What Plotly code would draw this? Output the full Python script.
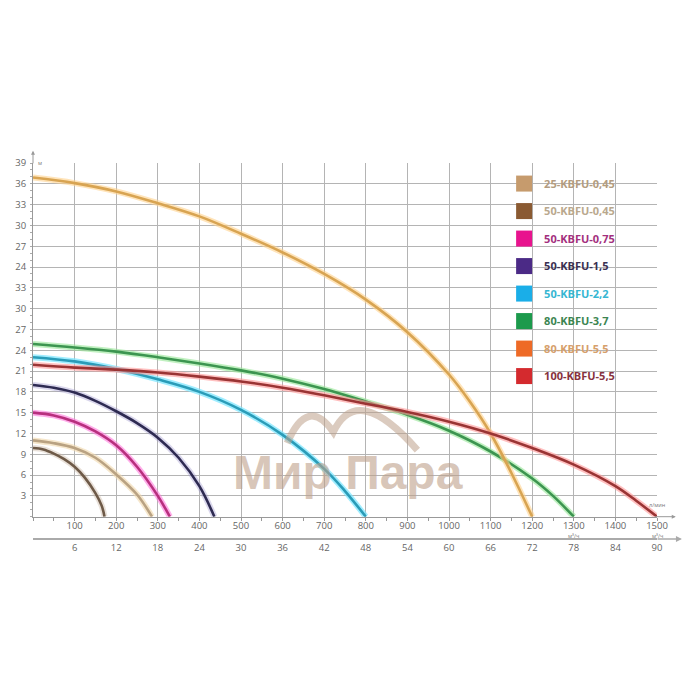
import plotly.graph_objects as go

# подача (верхняя шкала, 0-1500) и напор (в делениях оси)
q_25_045 = [0, 50, 100, 150, 200, 250, 286]
h_25_045 = [11.0, 10.6, 9.9, 8.5, 6.1, 3.2, 0]

q_50_045 = [0, 25, 50, 75, 100, 125, 150, 165, 172]
h_50_045 = [9.9, 9.7, 9.1, 8.3, 7.2, 5.6, 3.4, 1.6, 0]

q_50_075 = [0, 50, 100, 150, 200, 250, 300, 329]
h_50_075 = [15.0, 14.6, 13.7, 12.3, 10.3, 7.2, 3.0, 0]

q_50_15 = [0, 50, 100, 150, 200, 250, 300, 350, 400, 436]
h_50_15 = [19.0, 18.6, 17.9, 16.7, 15.2, 13.5, 11.4, 8.5, 4.4, 0]

q_50_22 = [0, 100, 200, 300, 400, 500, 600, 700, 750, 800]
h_50_22 = [23.0, 22.4, 21.3, 19.8, 18.0, 15.4, 11.8, 6.9, 3.7, 0]

q_80_37 = [0, 100, 200, 300, 400, 500, 600, 700, 800, 900, 1000, 1100, 1200, 1250, 1300]
h_80_37 = [24.9, 24.4, 23.8, 23.0, 22.1, 21.1, 19.9, 18.4, 16.6, 14.7, 12.4, 9.4, 5.5, 3.0, 0]

q_80_55 = [0, 100, 200, 300, 400, 500, 600, 700, 800, 900, 1000, 1050, 1100, 1150, 1200]
h_80_55 = [48.9, 48.1, 46.9, 45.2, 43.3, 40.8, 38.1, 35.0, 31.3, 26.6, 20.5, 16.6, 12.0, 6.3, 0]

q_100_55 = [0, 100, 200, 300, 400, 500, 600, 700, 800, 900, 1000, 1100, 1200, 1300, 1400, 1450, 1500]
h_100_55 = [21.9, 21.5, 21.2, 20.8, 20.2, 19.5, 18.6, 17.5, 16.3, 15.1, 13.7, 12.0, 9.9, 7.5, 4.4, 2.3, 0]

names = ["25-KBFU-0,45", "50-KBFU-0,45", "50-KBFU-0,75", "50-KBFU-1,5",
         "50-KBFU-2,2", "80-KBFU-3,7", "80-KBFU-5,5", "100-KBFU-5,5"]
flows = [q_25_045, q_50_045, q_50_075, q_50_15, q_50_22, q_80_37, q_80_55, q_100_55]
heads = [h_25_045, h_50_045, h_50_075, h_50_15, h_50_22, h_80_37, h_80_55, h_100_55]

box_colors = ["#c69b6d", "#8a5a32", "#e8138e", "#4b2a86", "#1aaee8", "#1c9a4c", "#ee6a26", "#d42a2e"]
line_colors = ["#b9a282", "#6e5a48", "#b8307e", "#2e2b52", "#2a9cb8", "#3c9550", "#d8a452", "#9a3434"]
glow_colors = ["rgba(240,215,170,0.6)", "rgba(200,180,160,0.4)", "rgba(255,120,220,0.6)",
               "rgba(150,140,200,0.35)", "rgba(120,230,255,0.7)", "rgba(150,230,150,0.6)",
               "rgba(255,210,140,0.6)", "rgba(255,150,150,0.6)"]
text_colors = ["#b39c80", "#b9a88e", "#a3307e", "#3a3052", "#36b6d2", "#3c8552", "#d6a06c", "#86323e"]

y_tickvals = [3, 6, 9, 12, 15, 18, 21, 24, 27, 30, 33, 36, 39, 42, 45, 48, 51]
y_ticktext = ["3", "6", "9", "12", "15", "18", "21", "24", "27", "30", "33",
              "24", "27", "30", "33", "36", "39"]
x_tickvals = [100, 200, 300, 400, 500, 600, 700, 800, 900, 1000, 1100, 1200, 1300, 1400, 1500]
x2_tickvals = [6, 12, 18, 24, 30, 36, 42, 48, 54, 60, 66, 72, 78, 84, 90]

fig = go.Figure()

# кривые: светлый ореол + основная линия
for i in range(len(names)):
    fig.add_trace(go.Scatter(x=flows[i], y=heads[i], mode="lines", line_shape="spline",
                             line=dict(color=glow_colors[i], width=6),
                             showlegend=False, hoverinfo="skip"))
    fig.add_trace(go.Scatter(x=flows[i], y=heads[i], mode="lines", line_shape="spline",
                             line=dict(color=line_colors[i], width=2.6),
                             showlegend=False, name=names[i]))

# нижняя шкала (м³/ч) - пустой след, чтобы ось рисовалась
fig.add_trace(go.Scatter(x=[None], y=[None], xaxis="x2", yaxis="y", showlegend=False,
                         hoverinfo="skip"))

# легенда с квадратами
for i in range(len(names)):
    fig.add_trace(go.Scatter(x=[None], y=[None], mode="markers",
                             marker=dict(symbol="square", size=16, color=box_colors[i]),
                             name="<b><span style='color:%s'>%s</span></b>" % (text_colors[i], names[i]),
                             legendgroup=names[i]))

# водяной знак
fig.add_annotation(x=758, y=6.4, xref="x", yref="y", text="<b>Мир Пара</b>",
                   showarrow=False, font=dict(family="Liberation Sans", size=48,
                                              color="rgba(190,160,138,0.6)"))
fig.add_shape(type="path", xref="x", yref="y",
              path="M 611,10.6 Q 660,17.5 722,12.2 Q 780,19.5 924,9.6",
              line=dict(color="rgba(190,160,138,0.55)", width=7))

# стрелки осей
fig.add_annotation(x=0, y=1.03, xref="x", yref="paper", ax=0, ay=14, text="",
                   showarrow=True, arrowhead=2, arrowsize=0.8, arrowwidth=1, arrowcolor="#999")
fig.add_annotation(x=1.03, y=0, xref="paper", yref="y", ax=-22, ay=0, text="",
                   showarrow=True, arrowhead=2, arrowsize=0.8, arrowwidth=1, arrowcolor="#999")
fig.add_annotation(x=1.04, y=0.0716, xref="paper", yref="paper", ax=-26, ay=0, text="",
                   showarrow=True, arrowhead=2, arrowsize=0.8, arrowwidth=1.5, arrowcolor="#aaa")

# единицы измерения
small = dict(family="Open Sans", size=5.5, color="#777")
fig.add_annotation(x=0, y=51, xref="x", yref="y", text="м", showarrow=False,
                   xanchor="left", xshift=3, font=small)
fig.add_annotation(x=1500, y=0, xref="x", yref="y", text="л/мин", showarrow=False,
                   yanchor="bottom", yshift=6, font=small)
for xv in [1300, 1500]:
    fig.add_annotation(x=xv, y=0, xref="x", yref="y", text="м³/ч", showarrow=False,
                       yanchor="top", yshift=-13, font=small)

tick_font = dict(family="Open Sans", size=9.5, color="#666")

fig.update_layout(
    width=692, height=692,
    margin=dict(l=25, r=43, t=155, b=132),
    plot_bgcolor="white", paper_bgcolor="white",
    xaxis=dict(range=[0, 1500], tickvals=x_tickvals, showgrid=True, gridcolor="#b4b4b4",
               gridwidth=1, zeroline=False, showline=True, linecolor="#999", linewidth=1,
               ticks="", tickfont=tick_font, anchor="y", automargin=False,
               minor=dict(ticks="outside", ticklen=3, dtick=50, tickcolor="#999", showgrid=False)),
    xaxis2=dict(range=[0, 90], tickvals=x2_tickvals, overlaying="x", anchor="free",
                position=0.0716, side="bottom", showgrid=False, zeroline=False,
                showline=True, linecolor="#aaa", linewidth=2, ticks="", tickfont=tick_font,
                automargin=False),
    yaxis=dict(range=[0, 51], domain=[0.1267, 1], tickvals=y_tickvals, ticktext=y_ticktext,
               showgrid=True, gridcolor="#b4b4b4", gridwidth=1, zeroline=False,
               showline=True, linecolor="#999", linewidth=1, ticks="", tickfont=tick_font,
               ticklabelstandoff=4, automargin=False,
               minor=dict(ticks="outside", ticklen=2, dtick=1, tickcolor="#aaa", showgrid=False)),
    legend=dict(x=0.755, y=0.985, xanchor="left", yanchor="top", bgcolor="rgba(0,0,0,0)",
                font=dict(family="Open Sans", size=11), tracegroupgap=8.5,
                itemsizing="trace"),
    showlegend=True,
)

fig.write_html("out.html")
